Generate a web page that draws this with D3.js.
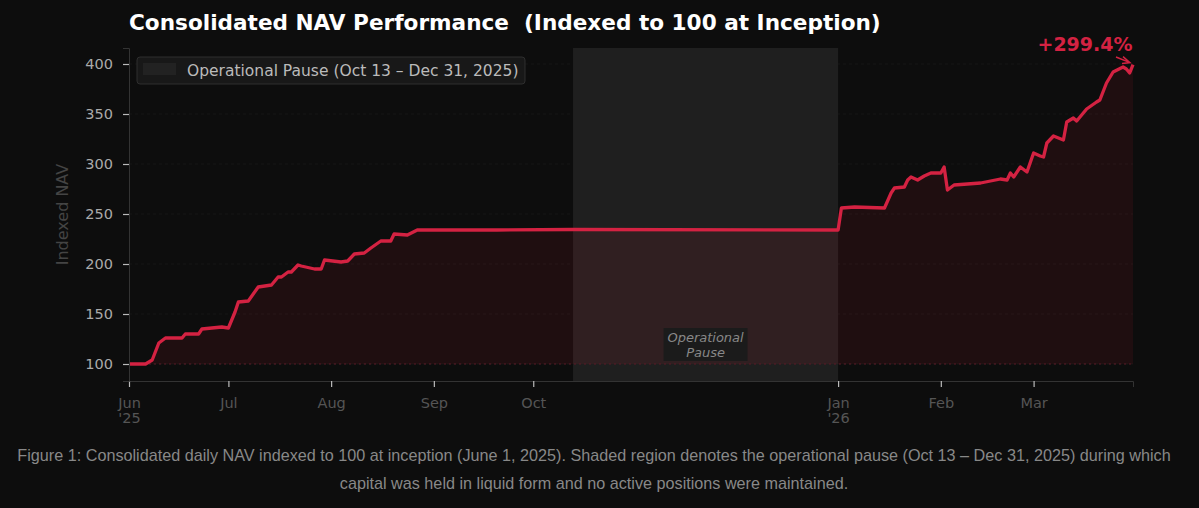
<!DOCTYPE html>
<html>
<head>
<meta charset="utf-8">
<script src="https://cdn.jsdelivr.net/npm/d3@7"></script>
<style>
  html, body { margin: 0; padding: 0; background: #0d0d0d; }
  svg { display: block; }
</style>
</head>
<body>
<svg id="chart-area"></svg>
<script>
// NAV readings (indexed to 100 on Jun 1, 2025)
const dates = [
  "2025-06-01", "2025-06-06", "2025-06-08", "2025-06-10", "2025-06-12", "2025-06-17",
  "2025-06-18", "2025-06-22", "2025-06-23", "2025-06-29", "2025-07-01", "2025-07-03",
  "2025-07-04", "2025-07-07", "2025-07-10", "2025-07-14", "2025-07-16", "2025-07-17",
  "2025-07-19", "2025-07-20", "2025-07-22", "2025-07-23", "2025-07-27", "2025-07-29",
  "2025-07-30", "2025-08-04", "2025-08-06", "2025-08-08", "2025-08-11", "2025-08-13",
  "2025-08-16", "2025-08-19", "2025-08-20", "2025-08-24", "2025-08-27", "2025-09-20",
  "2025-10-13", "2026-01-01", "2026-01-02", "2026-01-06", "2026-01-15", "2026-01-17",
  "2026-01-18", "2026-01-21", "2026-01-22", "2026-01-23", "2026-01-25", "2026-01-27",
  "2026-01-29", "2026-02-01", "2026-02-02", "2026-02-03", "2026-02-05", "2026-02-13",
  "2026-02-16", "2026-02-19", "2026-02-21", "2026-02-22", "2026-02-23", "2026-02-25",
  "2026-02-27", "2026-03-01", "2026-03-03", "2026-03-04", "2026-03-05", "2026-03-07",
  "2026-03-10", "2026-03-11", "2026-03-13", "2026-03-14", "2026-03-17", "2026-03-20",
  "2026-03-21", "2026-03-23", "2026-03-25", "2026-03-28", "2026-03-29", "2026-03-30",
  "2026-03-31"
];
const navValues = [
  100, 100, 104, 121, 126, 126,
  130, 130, 135, 137, 136, 152,
  162, 163, 177, 179, 187, 187,
  192, 192, 199, 198, 195, 195,
  204, 202, 203, 210, 211, 216,
  223, 223, 230, 229, 234, 234,
  234.5, 234, 256, 257, 256, 271,
  276, 277, 284, 287, 284, 288,
  291, 291, 297, 274, 279, 281,
  283, 285, 284, 291, 287, 297,
  292, 311, 308, 307, 321, 328,
  324, 342, 346, 343, 355, 362,
  364, 381, 392, 397, 395, 391,
  399.4
];

const pauseRange = ["2025-10-13", "2026-01-01"];
const xTickDates = ["2025-06-01", "2025-07-01", "2025-08-01", "2025-09-01", "2025-10-01", "2026-01-01", "2026-02-01", "2026-03-01"];
const xTickLabels = [["Jun", "'25"], ["Jul"], ["Aug"], ["Sep"], ["Oct"], ["Jan", "'26"], ["Feb"], ["Mar"]];
const yTicks = [100, 150, 200, 250, 300, 350, 400];
const captionLines = [
  "Figure 1: Consolidated daily NAV indexed to 100 at inception (June 1, 2025). Shaded region denotes the operational pause (Oct 13 \u2013 Dec 31, 2025) during which",
  "capital was held in liquid form and no active positions were maintained."
];

const W = 1199, H = 508;
const plotLeft = 129, plotRight = 1133, plotTop = 48, plotBottom = 381;
const red = "#d42242";
const parse = d3.utcParse("%Y-%m-%d");

const data = dates.map((d, i) => ({ date: parse(d), value: navValues[i] }));

const svg = d3.select("#chart-area")
              .attr("width", W)
              .attr("height", H);

svg.append("rect")
   .attr("width", W)
   .attr("height", H)
   .attr("fill", "#0d0d0d");

const x = d3.scaleUtc()
            .domain([parse("2025-06-01"), parse("2026-03-31")])
            .range([plotLeft, plotRight]);

const y = d3.scaleLinear()
            .domain([83, 416])
            .range([plotBottom, plotTop]);

// horizontal grid
svg.append("g")
   .selectAll("line")
   .data(yTicks)
   .enter()
   .append("line")
   .attr("x1", plotLeft)
   .attr("x2", plotRight)
   .attr("y1", d => y(d))
   .attr("y2", d => y(d))
   .attr("stroke", "#171717")
   .attr("stroke-dasharray", "3,3");

// pause shading
svg.append("rect")
   .attr("x", x(parse(pauseRange[0])))
   .attr("y", plotTop)
   .attr("width", x(parse(pauseRange[1])) - x(parse(pauseRange[0])))
   .attr("height", plotBottom - plotTop)
   .attr("fill", "#1f1f1f");

const area = d3.area()
               .x(d => x(d.date))
               .y0(y(100))
               .y1(d => y(d.value));

svg.append("path")
   .datum(data)
   .attr("d", area)
   .attr("fill", "rgba(220,30,60,0.09)");

// baseline at 100
svg.append("line")
   .attr("x1", plotLeft)
   .attr("x2", plotRight)
   .attr("y1", y(100))
   .attr("y2", y(100))
   .attr("stroke", "#5a1a26")
   .attr("stroke-width", 1)
   .attr("stroke-dasharray", "2,3");

const line = d3.line()
               .x(d => x(d.date))
               .y(d => y(d.value));

svg.append("path")
   .datum(data)
   .attr("d", line)
   .attr("fill", "none")
   .attr("stroke", red)
   .attr("stroke-width", 3.3)
   .attr("stroke-linejoin", "round");

// axes
const xAxis = d3.axisBottom(x)
                .tickValues(xTickDates.map(parse))
                .tickSize(6)
                .tickFormat("");

const gx = svg.append("g")
              .attr("transform", `translate(0, ${plotBottom})`)
              .call(xAxis);
gx.select(".domain").attr("stroke", "#333");
gx.selectAll(".tick line").attr("stroke", "#bbb").attr("stroke-width", 1.2);
gx.selectAll(".tick text").remove();
gx.selectAll(".tick")
  .append("text")
  .attr("fill", "#555")
  .attr("font-family", "DejaVu Sans")
  .attr("font-size", 14.5)
  .attr("text-anchor", "middle")
  .selectAll("tspan")
  .data((d, i) => xTickLabels[i])
  .enter()
  .append("tspan")
  .attr("x", 0)
  .attr("y", (d, i) => 27 + i * 15)
  .text(d => d);

const yAxis = d3.axisLeft(y)
                .tickValues(yTicks)
                .tickSize(6)
                .tickPadding(10);

const gy = svg.append("g")
              .attr("transform", `translate(${plotLeft}, 0)`)
              .call(yAxis);
gy.select(".domain").attr("stroke", "#333");
gy.selectAll(".tick line").attr("stroke", "#bbb").attr("stroke-width", 1.2);
gy.selectAll(".tick text")
  .attr("fill", "#aaa")
  .attr("font-family", "DejaVu Sans")
  .attr("font-size", 14.5);

svg.append("text")
   .attr("transform", `translate(68, ${(plotTop + plotBottom) / 2}) rotate(-90)`)
   .attr("text-anchor", "middle")
   .attr("fill", "#444")
   .attr("font-family", "DejaVu Sans")
   .attr("font-size", 16)
   .text("Indexed NAV");

// pause label
const midX = (x(parse(pauseRange[0])) + x(parse(pauseRange[1]))) / 2;
svg.append("rect")
   .attr("x", midX - 42)
   .attr("y", 328)
   .attr("width", 84)
   .attr("height", 33)
   .attr("fill", "#1b1b1b");
svg.append("text")
   .attr("x", midX)
   .attr("text-anchor", "middle")
   .attr("fill", "#888")
   .attr("font-family", "DejaVu Sans")
   .attr("font-style", "italic")
   .attr("font-size", 13)
   .selectAll("tspan")
   .data(["Operational", "Pause"])
   .enter()
   .append("tspan")
   .attr("x", midX)
   .attr("y", (d, i) => 342 + i * 15)
   .text(d => d);

// legend
svg.append("rect")
   .attr("x", 137)
   .attr("y", 57)
   .attr("width", 388)
   .attr("height", 27)
   .attr("rx", 3)
   .attr("fill", "#181818")
   .attr("stroke", "#2e2e2e");
svg.append("rect")
   .attr("x", 143)
   .attr("y", 63)
   .attr("width", 33)
   .attr("height", 12)
   .attr("fill", "#222");
svg.append("text")
   .attr("x", 187)
   .attr("y", 76)
   .attr("fill", "#bbb")
   .attr("font-family", "DejaVu Sans")
   .attr("font-size", 15.5)
   .text("Operational Pause (Oct 13 \u2013 Dec 31, 2025)");

// title
svg.append("text")
   .attr("x", plotLeft)
   .attr("y", 30)
   .attr("fill", "#fff")
   .attr("font-family", "DejaVu Sans")
   .attr("font-weight", "bold")
   .attr("font-size", 21.6)
   .style("white-space", "pre")
   .text("Consolidated NAV Performance  (Indexed to 100 at Inception)");

// end annotation
const last = data[data.length - 1];
const gain = last.value - 100;
svg.append("text")
   .attr("x", 1085)
   .attr("y", 51)
   .attr("text-anchor", "middle")
   .attr("fill", red)
   .attr("font-family", "DejaVu Sans")
   .attr("font-weight", "bold")
   .attr("font-size", 19)
   .text(`+${gain.toFixed(1)}%`);

const ax = x(last.date) - 3, ay = y(last.value) - 2;
svg.append("path")
   .attr("d", `M1116,57 L${ax},${ay} M${ax - 7},${ay - 6} L${ax},${ay} L${ax - 8},${ay + 1}`)
   .attr("fill", "none")
   .attr("stroke", red)
   .attr("stroke-width", 1.5);

// caption
svg.append("g")
   .selectAll("text")
   .data(captionLines)
   .enter()
   .append("text")
   .attr("x", 594)
   .attr("y", (d, i) => 461 + i * 28)
   .attr("text-anchor", "middle")
   .attr("fill", "#888")
   .attr("font-family", "Liberation Sans")
   .attr("font-size", 16.2)
   .text(d => d);
</script>
</body>
</html>
